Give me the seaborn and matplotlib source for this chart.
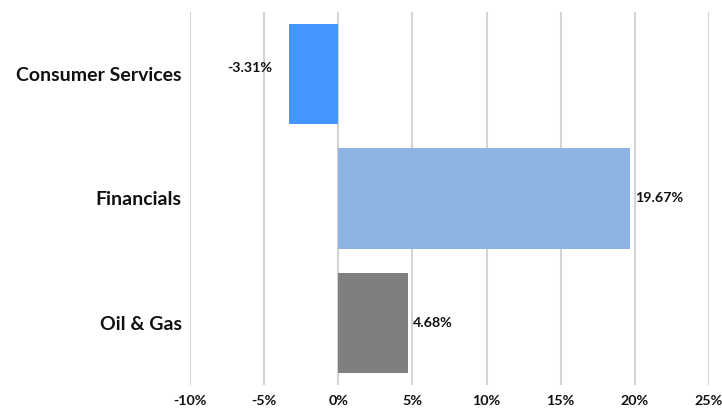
import pandas as pd
import seaborn as sns
from matplotlib import pyplot as plt
from matplotlib.ticker import FuncFormatter

sectors = ["Consumer Services", "Financials", "Oil & Gas"]
returns = [-3.31, 19.67, 4.68]
bar_colors = ["#4495FF", "#8EB4E3", "#7F7F7F"]
x_ticks = [-10, -5, 0, 5, 10, 15, 20, 25]

sns.set_theme(style="white")
plt.rcParams["font.family"] = ["Lato", "DejaVu Sans"]

data = pd.DataFrame({"sector": sectors, "ret": returns})

fig = plt.figure(figsize=(7.22, 4.08), dpi=100)
ax = fig.add_axes([0.263, 0.056, 0.719, 0.915])

sns.barplot(
    data=data,
    x="ret",
    y="sector",
    hue="sector",
    palette=bar_colors,
    orient="h",
    width=0.81,
    legend=False,
    saturation=1,
    linewidth=0,
    ax=ax,
)

for i, v in enumerate(returns):
    label = f"{v:.2f}%"
    if v < 0:
        ax.annotate(label, (v, i), xytext=(-12, 4), textcoords="offset points",
                    ha="right", va="center", fontsize=10.3, fontweight="bold", color="#111111")
    else:
        ax.annotate(label, (v, i), xytext=(3.5, 0), textcoords="offset points",
                    ha="left", va="center", fontsize=10.3, fontweight="bold", color="#111111")

ax.set_xlim(-10, 25)
ax.set_ylim(2.5, -0.5)
ax.set_xticks(x_ticks)
ax.xaxis.set_major_formatter(FuncFormatter(lambda x, _: f"{int(x)}%"))
ax.grid(axis="x", color="#d4d4d4", linewidth=1.5)
ax.grid(axis="y", visible=False)
ax.set_axisbelow(True)
for s in ax.spines.values():
    s.set_visible(False)
ax.tick_params(axis="both", length=0, labelcolor="#111111")
ax.tick_params(axis="x", labelsize=10.3, pad=7)
ax.tick_params(axis="y", labelsize=14, pad=6)
for t in ax.get_xticklabels():
    t.set_fontweight("bold")
for t in ax.get_yticklabels():
    t.set_fontweight("bold")
ax.set_xlabel("")
ax.set_ylabel("")

plt.savefig("out.png", dpi=100)
